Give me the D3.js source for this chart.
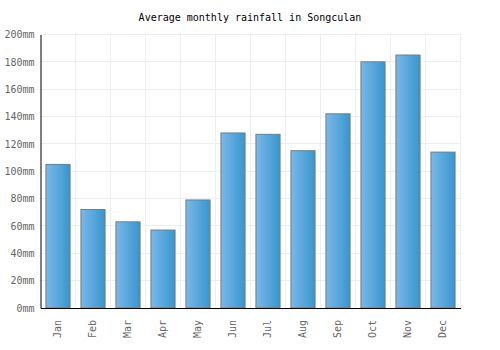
<!DOCTYPE html>
<html>
<head>
<meta charset="utf-8">
<script src="https://cdn.jsdelivr.net/npm/d3@7"></script>
<style>
  body { margin: 0; background: #fff; }
  svg { display: block; font-family: "DejaVu Sans Mono", monospace; }
</style>
</head>
<body>
<svg id="chart" width="500" height="350"></svg>
<script>
// Values.
const months = ['Jan', 'Feb', 'Mar', 'Apr', 'May', 'Jun', 'Jul', 'Aug', 'Sep', 'Oct', 'Nov', 'Dec'];
const rainfall = [105, 72, 63, 57, 79, 128, 127, 115, 142, 180, 185, 114];
const yTicks = [0, 20, 40, 60, 80, 100, 120, 140, 160, 180, 200];

const svg = d3.select('#chart');
const margin = { top: 34.5, right: 39.5, bottom: 42, left: 40.5 };
const width = 500 - margin.left - margin.right;
const height = 350 - margin.top - margin.bottom;

const x = d3.scaleBand().domain(months).range([0, width]).paddingInner(0.31).paddingOuter(0.155);
const bands = d3.scaleBand().domain(months).range([0, width]);
const y = d3.scaleLinear().domain([0, 200]).range([height, 0]);

// Bar gradient, light on the left, darker on the right.
const grad = svg.append('defs').append('linearGradient')
  .attr('id', 'barGrad')
  .attr('x1', '0%').attr('x2', '100%').attr('y1', '0%').attr('y2', '0%');
grad.append('stop').attr('offset', '0%').attr('stop-color', '#7ab8ea');
grad.append('stop').attr('offset', '100%').attr('stop-color', '#3896cd');

svg.append('text')
  .attr('x', 250).attr('y', 21)
  .attr('text-anchor', 'middle')
  .attr('font-size', 10)
  .attr('fill', '#000')
  .text('Average monthly rainfall in Songculan');

const g = svg.append('g').attr('transform', `translate(${margin.left},${margin.top})`);

// Grid lines.
g.append('g').selectAll('line.h')
  .data(yTicks)
  .join('line')
  .attr('x1', 0).attr('x2', width)
  .attr('y1', d => Math.round(y(d)) + 0.5 - 0.5)
  .attr('y2', d => Math.round(y(d)) + 0.5 - 0.5)
  .attr('stroke', '#eeeeee');

g.append('g').selectAll('line.v')
  .data(months)
  .join('line')
  .attr('x1', d => bands(d) + bands.bandwidth())
  .attr('x2', d => bands(d) + bands.bandwidth())
  .attr('y1', 0).attr('y2', height)
  .attr('stroke', '#eeeeee');

// Bars.
g.append('g').selectAll('rect')
  .data(rainfall)
  .join('rect')
  .attr('x', (d, i) => x(months[i]))
  .attr('y', d => y(d))
  .attr('width', x.bandwidth())
  .attr('height', d => height - y(d))
  .attr('fill', 'url(#barGrad)')
  .attr('stroke', '#7a7a7a')
  .attr('stroke-width', 1);

// Axes.
const yAxis = g.append('g')
  .call(d3.axisLeft(y).tickValues(yTicks).tickSize(0).tickPadding(6).tickFormat(d => d + 'mm'));
yAxis.select('.domain').attr('stroke', '#000');
yAxis.selectAll('text').attr('fill', '#666').attr('font-size', 10).attr('font-family', '"DejaVu Sans Mono", monospace');

const xAxis = g.append('g')
  .attr('transform', `translate(0,${height})`)
  .call(d3.axisBottom(x).tickSize(0).tickPadding(6));
xAxis.select('.domain').attr('stroke', '#000');
xAxis.selectAll('text')
  .attr('fill', '#666')
  .attr('font-size', 10)
  .attr('font-family', '"DejaVu Sans Mono", monospace')
  .attr('transform', 'rotate(-90)')
  .attr('text-anchor', 'end')
  .attr('dx', '-0.6em')
  .attr('dy', '-0.25em')
  .attr('x', 0)
  .attr('y', 0);
// Move rotated labels to band centers.
xAxis.selectAll('.tick text')
  .attr('dy', '0.32em')
  .attr('x', -6);
</script>
</body>
</html>
